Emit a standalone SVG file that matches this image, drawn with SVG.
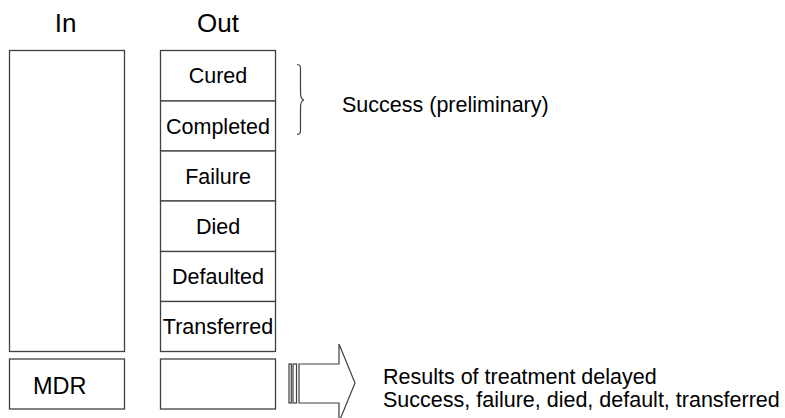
<svg xmlns="http://www.w3.org/2000/svg" width="785" height="418" viewBox="0 0 785 418">
<style>
.box{fill:#fff;stroke:#404040;stroke-width:1.3}
.t{font-family:"Liberation Sans",Arial,sans-serif;font-size:21.5px;fill:#000}
.h{font-family:"Liberation Sans",Arial,sans-serif;font-size:26px;fill:#000;text-anchor:middle}
.c{text-anchor:middle}
.ln{fill:none;stroke:#404040;stroke-width:1.2}
</style>
<rect width="785" height="418" fill="#fff"/>
<g id="headers">
<text class="h" x="65.5" y="32">In</text>
<text class="h" x="218" y="32">Out</text>
</g>
<g id="in-box"><rect class="box" x="9.5" y="50.5" width="115" height="301"/></g>
<g id="out-cured"><rect class="box" x="160.5" y="50.5" width="115" height="50.5"/><text class="t c" x="218" y="83">Cured</text></g>
<g id="out-completed"><rect class="box" x="160.5" y="101" width="115" height="50"/><text class="t c" x="218" y="133.5">Completed</text></g>
<g id="out-failure"><rect class="box" x="160.5" y="151" width="115" height="50"/><text class="t c" x="218" y="183.5">Failure</text></g>
<g id="out-died"><rect class="box" x="160.5" y="201" width="115" height="50.5"/><text class="t c" x="218" y="234">Died</text></g>
<g id="out-defaulted"><rect class="box" x="160.5" y="251.5" width="115" height="50"/><text class="t c" x="218" y="284">Defaulted</text></g>
<g id="out-transferred"><rect class="box" x="160.5" y="301.5" width="115" height="50"/><text class="t c" x="218" y="334">Transferred</text></g>
<g id="mdr"><rect class="box" x="9.5" y="359" width="115" height="50"/><text class="t" x="33" y="393.5" style="font-size:23.5px">MDR</text></g>
<g id="out-mdr"><rect class="box" x="160.5" y="359" width="115" height="50"/></g>
<g id="connectors">
<path class="ln" d="M297,64.5 C301,64.5 300.5,67 300.5,71 L300.5,92 C300.5,97 301,99.5 304,100 C301,100.5 300.5,103 300.5,108 L300.5,128 C300.5,132 301,134.5 297,134.5"/>
<rect class="ln" x="289" y="364" width="2.3" height="39"/>
<rect class="ln" x="293" y="364" width="3.5" height="39"/>
<path class="ln" d="M299,364 L339,364 L339,344 L355,383 L339,422 L339,403 L299,403 Z"/>
</g>
<g id="labels">
<text class="t" x="342" y="112">Success (preliminary)</text>
<text class="t" x="383" y="384">Results of treatment delayed</text>
<text class="t" x="383" y="407">Success, failure, died, default, transferred</text>
</g>
</svg>
